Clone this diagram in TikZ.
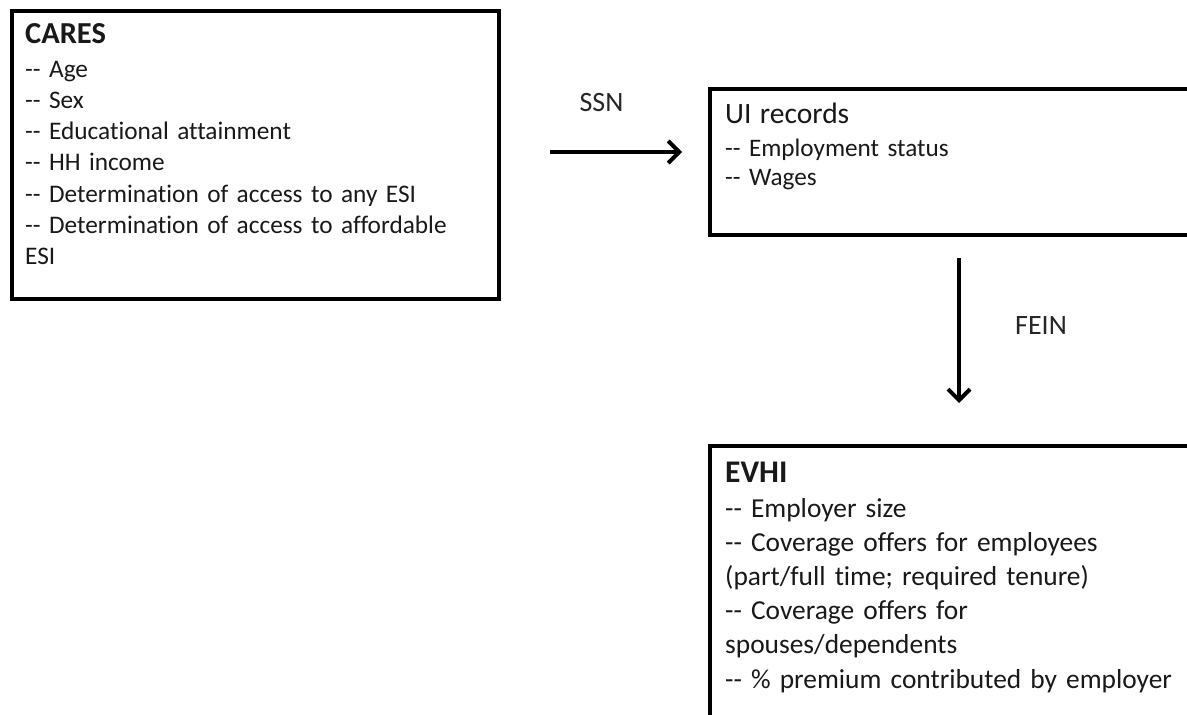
\documentclass[tikz,border=0pt]{standalone}
\usepackage{fontspec}
\setmainfont{Carlito}[Ligatures={NoCommon}]
\usetikzlibrary{arrows.meta}
\newcommand\dd{-\kern0pt-}
\begin{document}
\begin{tikzpicture}[x=1pt,y=-1pt,
  box/.style={draw=black,line width=4pt,rectangle,inner sep=0pt,anchor=north west},
  txtblock/.style={anchor=base west,inner sep=0pt,text width=470pt,align=left,text=black!90},
  arr/.style={line width=4pt,-{Straight Barb[length=11pt,width=22pt,line width=4pt]}},
  lbl/.style={inner sep=0pt,text=black!85,font=\fontsize{28}{34}\selectfont}]
\useasboundingbox (0,0) rectangle (1187,715);
\clip (0,0) rectangle (1187,715);
\fill[white] (0,0) rectangle (1187,715);
% boxes
\node[box,minimum width=487pt,minimum height=288pt] (cares) at (10,9) {};
\node[box,minimum width=502pt,minimum height=146pt] (ui) at (708,87) {};
\node[box,minimum width=502pt,minimum height=296pt] (evhi) at (708,444) {};
% texts
\node[txtblock,font=\fontsize{25.3}{31.3}\selectfont] (caresText) at (25,43)
  {{\fontsize{30.5}{30}\selectfont\bfseries CARES}\\[2.7pt]
   \dd{} Age\\
   \dd{} Sex\\
   \dd{} Educational attainment\\
   \dd{} HH income\\
   \dd{} Determination of access to any ESI\\
   \dd{} Determination of access to affordable\\
   ESI};
\node[txtblock,font=\fontsize{25.2}{29}\selectfont] (uiText) at (725,123)
  {{\fontsize{29.5}{28}\selectfont UI records}\\[4pt]
   \dd{} Employment status\\
   \dd{} Wages};
\node[txtblock,font=\fontsize{27.4}{34.2}\selectfont] (evhiText) at (725,482)
  {{\fontsize{31.5}{30}\selectfont\bfseries EVHI}\\[0.8pt]
   \dd{} Employer size\\
   \dd{} Coverage offers for employees\\
   (part/full time; required tenure)\\
   \dd{} Coverage offers for\\
   spouses/dependents\\
   \dd{} \% premium contributed by employer};
% connectors
\coordinate (ssnA) at (550,152);
\coordinate (ssnB) at (682,152);
\coordinate (feinA) at (959,258);
\coordinate (feinB) at (959,403);
\draw[arr] (ssnA) -- (ssnB);
\draw[arr] (feinA) -- (feinB);
\node[lbl,anchor=base] (ssn) at (601.5,111) {SSN};
\node[lbl,anchor=base west] (fein) at (1015,334) {FEIN};
\end{tikzpicture}
\end{document}
